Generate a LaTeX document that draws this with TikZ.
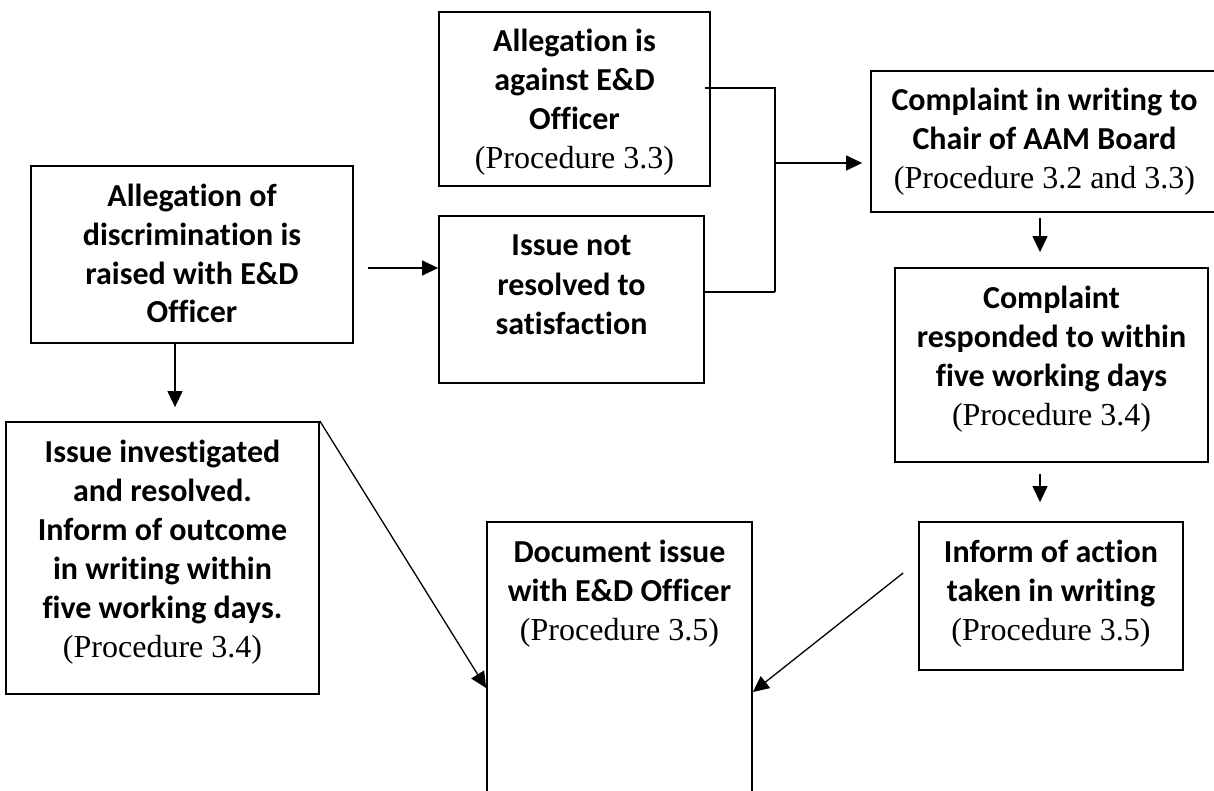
\documentclass[tikz,border=0pt]{standalone}
\usepackage{fontspec}
\setmainfont{Liberation Serif}
\setsansfont{Carlito}[Ligatures=NoCommon]
\usetikzlibrary{arrows.meta}

% box text: width, height, lines (top aligned)
\newcommand{\boxtext}[3]{\parbox[c][#2][t]{#1}{\centering\rule{0pt}{20pt}#3}}
\newcommand{\proc}[1]{{\rmfamily\mdseries (Procedure #1)}}

\tikzset{
  stepbox/.style={draw, line width=0.9pt, inner sep=0pt,
    font=\sffamily\bfseries\fontsize{16}{19.5}\selectfont},
  flow/.style={line width=0.65pt},
  arr/.style={flow, -{Triangle[length=8pt, width=7.5pt]}}
}

\begin{document}
\begin{tikzpicture}[x=0.5pt, y=-0.5pt]
            \useasboundingbox (0,0) rectangle (1214,791);
            \clip (0,0) rectangle (1214,791);

            \node[stepbox] (alleg) at (192, 254.5) {\boxtext{161pt}{88.5pt}{Allegation of\\ discrimination is\\ raised with E\&D\\ Officer}};
            \node[stepbox] (against) at (574.5, 99) {\boxtext{135.5pt}{87pt}{Allegation is\\ against E\&D\\ Officer\\ \proc{3.3}}};
            \node[stepbox] (notres) at (571.5, 299.5) {\boxtext{132.5pt}{83.5pt}{Issue not\\ resolved to\\ satisfaction}};
            \node[stepbox] (investig) at (162.5, 558) {\boxtext{156.5pt}{136pt}{Issue investigated\\ and resolved.\\ Inform of outcome\\ in writing within\\ five working days.\\ \proc{3.4}}};
            \node[stepbox] (document) at (619.5, 676) {\boxtext{132.5pt}{154pt}{Document issue\\ with E\&D Officer\\ \proc{3.5}}};
            \node[stepbox] (complaint) at (1044.5, 141.5) {\boxtext{173.5pt}{70.5pt}{Complaint in writing to\\ Chair of AAM Board\\ \proc{3.2 and 3.3}}};
            \node[stepbox] (respond) at (1051.5, 365) {\boxtext{156.5pt}{97pt}{Complaint\\ responded to within\\ five working days\\ \proc{3.4}}};
            \node[stepbox] (action) at (1051, 596) {\boxtext{132pt}{74pt}{Inform of action\\ taken in writing\\ \proc{3.5}}};

            \coordinate (jtop) at (775, 88);
            \coordinate (jmid) at (775, 163);
            \coordinate (jbot) at (775, 292);

            \draw[arr] ([shift={(14,13.5)}]alleg.east) -- ([shift={(0,-31.5)}]notres.west); % alleg-notres
            \draw[arr] ([shift={(-17,0)}]alleg.south) -- ([shift={(12.5,-14)}]investig.north); % alleg-investig
            \draw[flow] ([shift={(-6,-11)}]against.east) -- (jtop) -- (jbot); % against-join
            \draw[flow] ([shift={(0,-7.5)}]notres.east) -- (jbot); % notres-join
            \draw[arr] (jmid) -- ([shift={(-8,21.5)}]complaint.west); % join-complaint
            \draw[arr] ([shift={(-4.5,5)}]complaint.south) -- ([shift={(-11.5,-15)}]respond.north); % complaint-respond
            \draw[arr] ([shift={(-11.5,11)}]respond.south) -- ([shift={(-11,-19)}]action.north); % respond-action
            \draw[arr] ([shift={(-15,-23)}]action.west) -- ([shift={(0,16)}]document.east); % action-document
            \draw[arr] (investig.north east) -- ([shift={(0,12)}]document.west); % investig-document
        \end{tikzpicture}
\end{document}
